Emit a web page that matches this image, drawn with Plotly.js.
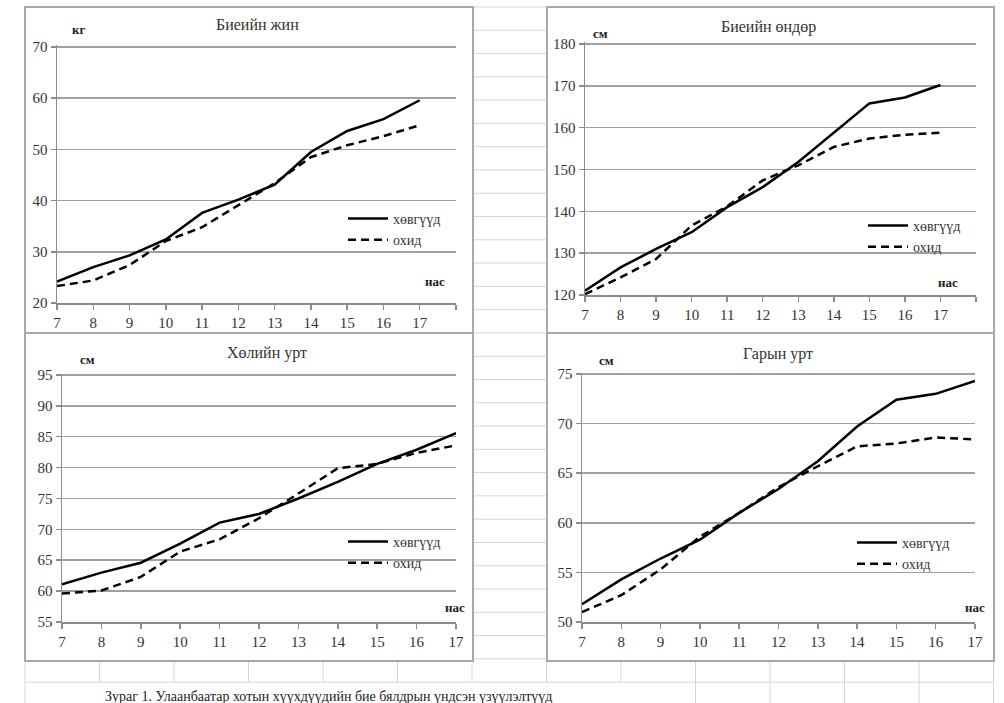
<!DOCTYPE html>
<html>
<head>
<meta charset="utf-8">
<script src="https://cdn.plot.ly/plotly-3.0.1.min.js"></script>
<style>
html,body{margin:0;padding:0;background:#fff;}
#chart{width:1004px;height:703px;}
</style>
</head>
<body>
<div id="chart"></div>
<script>
// ---------- data ----------
const ages = [7, 8, 9, 10, 11, 12, 13, 14, 15, 16, 17];
const seriesNames = ['хөвгүүд', 'охид'];
const panelTitles = ['Биеийн жин', 'Биеийн өндөр', 'Хөлийн урт', 'Гарын урт'];
const unitLabels = ['кг', 'см', 'см', 'см'];
const xLabel = 'нас';
const caption = 'Зураг 1. Улаанбаатар хотын хүүхдүүдийн бие бялдрын үндсэн үзүүлэлтүүд';

const weightBoys  = [24.2, 27.0, 29.3, 32.4, 37.6, 40.2, 43.1, 49.5, 53.6, 55.9, 59.6];
const weightGirls = [23.3, 24.4, 27.4, 32.1, 34.8, 39.1, 43.4, 48.5, 50.8, 52.6, 54.7];
const heightBoys  = [121.0, 126.6, 131.0, 135.0, 141.0, 145.8, 151.8, 158.7, 165.8, 167.2, 170.2];
const heightGirls = [120.2, 124.2, 128.6, 136.6, 141.2, 147.4, 151.0, 155.4, 157.4, 158.3, 158.8];
const legBoys     = [61.1, 63.0, 64.6, 67.7, 71.1, 72.5, 75.0, 77.7, 80.6, 82.9, 85.6];
const legGirls    = [59.6, 60.1, 62.3, 66.4, 68.4, 71.8, 75.8, 79.9, 80.6, 82.4, 83.6];
const armBoys     = [51.8, 54.3, 56.4, 58.3, 61.0, 63.4, 66.2, 69.7, 72.4, 73.0, 74.3];
const armGirls    = [51.0, 52.7, 55.3, 58.6, 61.0, 63.6, 65.7, 67.7, 68.0, 68.6, 68.4];

// ---------- layout helpers ----------
const W = 1004, H = 703;
const px = v => v / W;
const py = v => 1 - v / H;
const SERIF = 'Liberation Serif, Times New Roman, serif';

// panel geometry (pixels)
const panels = [
  {boys: weightBoys, girls: weightGirls, x0: 57, x1: 456, y0: 47, y1: 303, xr: [7, 18], yr: [20, 70], dt: 10,
   box: [25, 7, 473, 333], title: [257, 25], unit: [78, 30], nas: [435, 281], leg: [343, 203]},
  {boys: heightBoys, girls: heightGirls, x0: 585, x1: 976, y0: 44, y1: 295, xr: [7, 18], yr: [120, 180], dt: 10,
   box: [547, 7, 994, 333], title: [768, 27], unit: [600, 34], nas: [948, 282], leg: [863, 210]},
  {boys: legBoys, girls: legGirls, x0: 62, x1: 456, y0: 375, y1: 622, xr: [7, 17], yr: [55, 95], dt: 5,
   box: [25, 333, 473, 661], title: [267, 353], unit: [87, 359], nas: [455, 607], leg: [343, 526]},
  {boys: armBoys, girls: armGirls, x0: 582, x1: 975, y0: 374, y1: 622, xr: [7, 17], yr: [50, 75], dt: 5,
   box: [547, 333, 994, 661], title: [778, 354], unit: [606, 360], nas: [975, 607], leg: [852, 527]}
];

const traces = [];
const layout = {
  width: W, height: H,
  margin: {l: 0, r: 0, t: 0, b: 0},
  paper_bgcolor: '#ffffff',
  plot_bgcolor: 'rgba(0,0,0,0)',
  font: {family: SERIF, size: 14, color: '#333333'},
  showlegend: true,
  shapes: [],
  annotations: []
};

// spreadsheet grid behind the charts
const colW = 74.5, rowH = 23.28;
for (let k = 0; k <= 13; k++) {
  const x = 25 + k * colW;
  layout.shapes.push({type: 'line', xref: 'paper', yref: 'paper', layer: 'below',
    x0: px(x), x1: px(x), y0: py(7), y1: py(682), line: {color: '#d6d6d6', width: 1}});
  if (k === 0 || x > 690) {
    layout.shapes.push({type: 'line', xref: 'paper', yref: 'paper', layer: 'below',
      x0: px(x), x1: px(x), y0: py(682), y1: py(703), line: {color: '#d6d6d6', width: 1}});
  }
}
for (let k = 0; k <= 29; k++) {
  const y = 7 + k * rowH;
  layout.shapes.push({type: 'line', xref: 'paper', yref: 'paper', layer: 'below',
    x0: px(25), x1: px(994), y0: py(y), y1: py(y), line: {color: '#d6d6d6', width: 1}});
}

panels.forEach((p, i) => {
  const n = i === 0 ? '' : String(i + 1);
  const xa = 'xaxis' + n, ya = 'yaxis' + n;
  const lg = 'legend' + n;

  // chart box
  layout.shapes.push({type: 'rect', xref: 'paper', yref: 'paper', layer: 'below',
    x0: px(p.box[0]), x1: px(p.box[2]), y0: py(p.box[3]), y1: py(p.box[1]),
    fillcolor: '#ffffff', line: {color: '#a8a8a8', width: 2}});

  const tv = p.xr[1] > 17 ? ages.concat([p.xr[1]]) : ages.slice();
  const tt = tv.map(v => (ages.indexOf(v) >= 0 ? String(v) : ''));

  // tiny headroom so the top gridline is drawn
  const pad = 0.006;
  const yTop = p.yr[1] + (p.yr[1] - p.yr[0]) * pad;
  const yTopPx = p.y0 - (p.y1 - p.y0) * pad;

  layout[xa] = {
    domain: [px(p.x0), px(p.x1)], range: p.xr, anchor: 'y' + n,
    tickmode: 'array', tickvals: tv, ticktext: tt,
    showgrid: false, zeroline: false, showline: true, linecolor: '#8c8c8c', linewidth: 1.5,
    ticks: 'outside', ticklen: 5, tickcolor: '#8c8c8c', tickwidth: 1.5,
    tickfont: {family: SERIF, size: 15, color: '#333333'}, fixedrange: true
  };
  layout[ya] = {
    domain: [py(p.y1), py(yTopPx)], range: [p.yr[0], yTop], anchor: 'x' + n,
    tickmode: 'linear', tick0: p.yr[0], dtick: p.dt,
    showgrid: true, gridcolor: '#a0a0a0', gridwidth: 1.5,
    zeroline: false, showline: true, linecolor: '#8c8c8c', linewidth: 1.5,
    ticks: 'outside', ticklen: 5, tickcolor: '#8c8c8c', tickwidth: 1.5,
    tickfont: {family: SERIF, size: 15, color: '#333333'}, fixedrange: true
  };

  layout[lg] = {
    x: px(p.leg[0]), y: py(p.leg[1]), xanchor: 'left', yanchor: 'top',
    bgcolor: 'rgba(0,0,0,0)', borderwidth: 0,
    font: {family: SERIF, size: 14, color: '#333333'},
    itemwidth: 40, tracegroupgap: 0, traceorder: 'normal'
  };

  traces.push({x: ages, y: p.boys, xaxis: 'x' + n, yaxis: 'y' + n, legend: lg,
    type: 'scatter', mode: 'lines', name: seriesNames[0],
    line: {color: '#000000', width: 2.5}, hoverinfo: 'skip'});
  traces.push({x: ages, y: p.girls, xaxis: 'x' + n, yaxis: 'y' + n, legend: lg,
    type: 'scatter', mode: 'lines', name: seriesNames[1],
    line: {color: '#000000', width: 2.5, dash: '8px,5px'}, hoverinfo: 'skip'});

  layout.annotations.push({xref: 'paper', yref: 'paper', x: px(p.title[0]), y: py(p.title[1]),
    xanchor: 'center', yanchor: 'middle', showarrow: false, text: panelTitles[i],
    font: {family: SERIF, size: 16, color: '#333333'}});
  layout.annotations.push({xref: 'paper', yref: 'paper', x: px(p.unit[0]), y: py(p.unit[1]),
    xanchor: 'center', yanchor: 'middle', showarrow: false, text: '<b>' + unitLabels[i] + '</b>',
    font: {family: SERIF, size: 13, color: '#222222'}});
  layout.annotations.push({xref: 'paper', yref: 'paper', x: px(p.nas[0]), y: py(p.nas[1]),
    xanchor: 'center', yanchor: 'middle', showarrow: false, text: '<b>' + xLabel + '</b>',
    font: {family: SERIF, size: 13, color: '#222222'}});
});

layout.annotations.push({xref: 'paper', yref: 'paper', x: px(103), y: py(696),
  xanchor: 'left', yanchor: 'middle', showarrow: false, text: caption,
  font: {family: SERIF, size: 14, color: '#222222'}});

Plotly.newPlot('chart', traces, layout, {displayModeBar: false, staticPlot: true});
</script>
</body>
</html>
